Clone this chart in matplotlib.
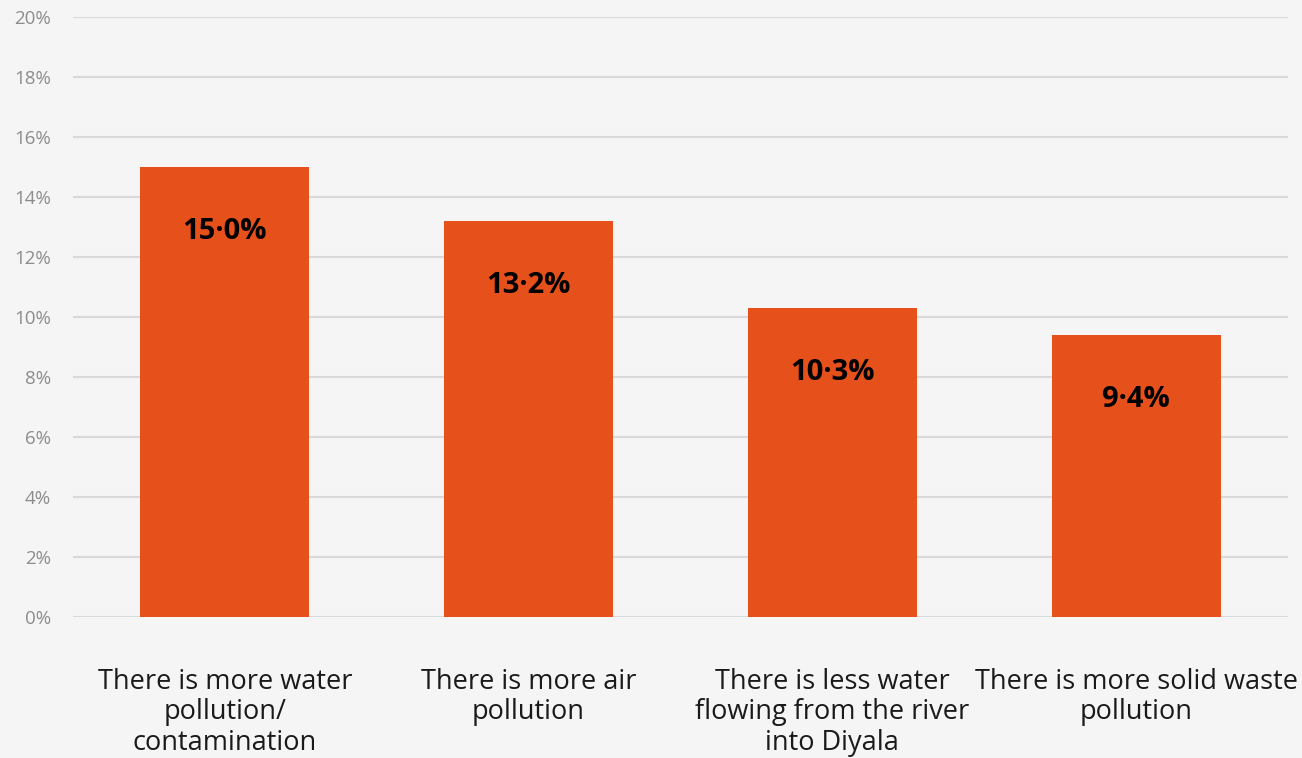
import matplotlib
matplotlib.use("Agg")
import matplotlib.pyplot as plt

categories = [
    "There is more water\npollution/\ncontamination",
    "There is more air\npollution",
    "There is less water\nflowing from the river\ninto Diyala",
    "There is more solid waste\npollution",
]
values = [15.0, 13.2, 10.3, 9.4]
value_labels = ["15·0%", "13·2%", "10·3%", "9·4%"]
yticks = [0, 2, 4, 6, 8, 10, 12, 14, 16, 18, 20]
ytick_labels = [f"{t}%" for t in yticks]

plt.rcParams['font.family'] = ['Open Sans', 'DejaVu Sans']
bg = "#f5f5f5"
fig = plt.figure(figsize=(13.02, 7.58), dpi=100, facecolor=bg)
ax = fig.add_axes([73/1302, 141/758, (1288-73)/1302, 600/758])
ax.set_facecolor(bg)

x = list(range(len(categories)))
ax.bar(x, values, width=0.556, color="#e6501b", zorder=3)
for xi, v, lab in zip(x, values, value_labels):
    ax.text(xi, v - 2.15, lab, ha="center", va="center", fontsize=21,
            fontweight="bold", color="black", zorder=4)

ax.set_xlim(-0.5, 3.5)
ax.set_ylim(0, 20)
ax.set_yticks(yticks)
ax.set_yticklabels(ytick_labels, fontsize=13.5, color="#8c8c8c")
ax.set_xticks(x)
ax.set_xticklabels(categories, fontsize=19.5, color="#1a1a1a", linespacing=1.1)
ax.tick_params(axis="x", length=0, pad=37)
ax.tick_params(axis="y", length=0, pad=16)
ax.grid(axis="y", color="#d9d9d9", linewidth=1.5, zorder=0)
for s in ax.spines.values():
    s.set_visible(False)

fig.savefig("out.png", dpi=100, facecolor=bg)
